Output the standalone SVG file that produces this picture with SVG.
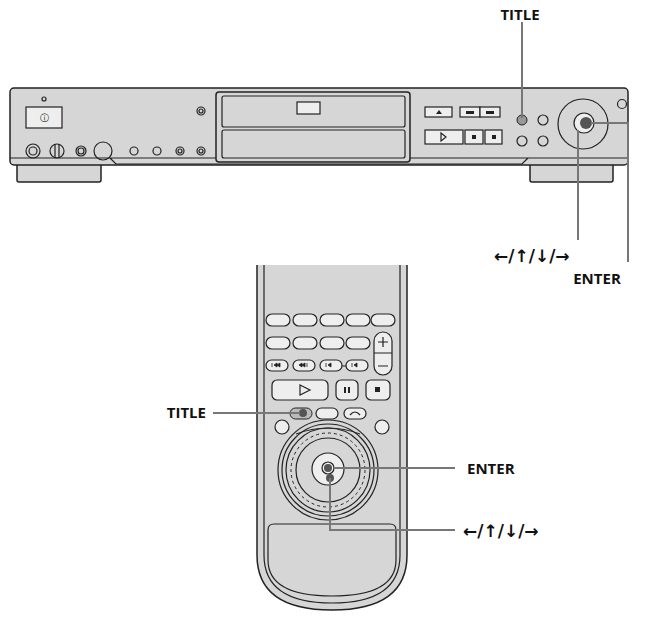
<svg xmlns="http://www.w3.org/2000/svg" width="656" height="625" viewBox="0 0 656 625">
<style>
.b{fill:#d6d6d6;stroke:#222;stroke-width:1.5}
.w{fill:#eee;stroke:#222;stroke-width:1.2}
.n{fill:none;stroke:#222;stroke-width:1.2}
.d{fill:#555}
.c{fill:none;stroke:#777;stroke-width:2}
text{font-family:"Open Sans","DejaVu Sans",sans-serif;font-weight:bold;font-size:15px;fill:#111}
.a{font-family:"DejaVu Sans",sans-serif;font-size:17px}
</style>
<rect width="656" height="625" fill="#fff"/>
<g id="player">
<rect class="b" x="17" y="163" width="84" height="19" rx="2"/>
<rect class="b" x="530" y="163" width="83" height="19" rx="2"/>
<rect class="b" x="10" y="88" width="618" height="77" rx="4"/>
<path class="n" d="M10 158H628M110 158l6 6H522l6-6"/>
<rect class="b" x="216" y="92" width="194" height="70" rx="3"/>
<rect class="n" x="222" y="96" width="183" height="31" rx="2"/>
<rect class="n" x="222" y="130" width="183" height="28" rx="2"/>
<rect class="w" x="297" y="102" width="23" height="12"/>
<rect class="w" x="26" y="107" width="36" height="21"/>
<text x="44" y="121" style="font-size:9px;font-weight:normal" text-anchor="middle">ⓘ</text>
<circle class="n" cx="44" cy="99" r="2"/>
<circle class="n" cx="33" cy="151" r="7"/><circle class="n" cx="33" cy="151" r="4"/>
<circle class="n" cx="57" cy="151" r="7"/><path class="n" d="M55 144V158M59 144V158"/>
<circle class="n" cx="81" cy="151" r="5"/><circle class="n" cx="81" cy="151" r="3"/>
<circle class="n" cx="103" cy="151" r="9"/>
<circle class="n" cx="134" cy="151" r="4"/><circle class="n" cx="157" cy="151" r="4"/>
<circle class="n" cx="180" cy="151" r="4"/><circle class="n" cx="180" cy="151" r="2"/>
<circle class="n" cx="201" cy="151" r="4"/><circle class="n" cx="201" cy="151" r="2"/>
<circle class="n" cx="201" cy="111" r="4"/><circle class="n" cx="201" cy="111" r="2"/>
<rect class="w" x="425" y="107" width="27" height="10"/><path d="M436 114l3-4 3 4z" fill="#222"/>
<rect class="w" x="460" y="107" width="20" height="10"/><rect class="w" x="480" y="107" width="20" height="10"/>
<rect x="466" y="111" width="8" height="3" fill="#222"/><rect x="486" y="111" width="8" height="3" fill="#222"/>
<rect class="w" x="425" y="130" width="38" height="14"/><path class="n" d="M441 133l5 4-5 4z"/>
<rect class="w" x="465" y="130" width="18" height="14"/><rect class="w" x="485" y="130" width="17" height="14"/>
<rect x="472" y="135" width="4" height="4" fill="#222"/><rect x="492" y="135" width="4" height="4" fill="#222"/>
<circle cx="522" cy="120" r="5" fill="#999" stroke="#222"/>
<circle class="n" cx="543" cy="120" r="5"/><circle class="n" cx="522" cy="141" r="5"/><circle class="n" cx="543" cy="141" r="5"/>
<circle class="n" cx="622" cy="104" r="4.5"/>
<circle class="n" cx="583" cy="124" r="25"/>
<circle class="w" cx="584" cy="123" r="10"/>
<circle class="d" cx="586" cy="123" r="6"/>
</g>
<g id="remote">
<path class="b" d="M257 265V555q0 55 75 55q75 0 75-55V265"/>
<path class="n" d="M264 265V555q0 48 68 48q68 0 68-48V265"/>
<path class="n" d="M268 530q0-6 6-6H390q6 0 6 6V560q0 36-64 36q-64 0-64-36z"/>
<g class="w">
<rect x="266" y="314" width="24" height="12" rx="6"/><rect x="293" y="314" width="24" height="12" rx="6"/><rect x="320" y="314" width="24" height="12" rx="6"/><rect x="346" y="314" width="24" height="12" rx="6"/><rect x="371" y="314" width="24" height="12" rx="6"/>
<rect x="266" y="337" width="24" height="12" rx="6"/><rect x="293" y="337" width="24" height="12" rx="6"/><rect x="320" y="337" width="24" height="12" rx="6"/><rect x="346" y="337" width="24" height="12" rx="6"/>
<rect x="266" y="360" width="22" height="11" rx="5.5"/><rect x="293" y="360" width="22" height="11" rx="5.5"/><rect x="320" y="360" width="22" height="11" rx="5.5"/><rect x="346" y="360" width="22" height="11" rx="5.5"/>
<rect x="374" y="332" width="18" height="43" rx="9"/>
<rect x="272" y="380" width="56" height="20" rx="5"/><rect x="336" y="380" width="22" height="20" rx="5"/><rect x="366" y="380" width="24" height="20" rx="5"/>
<rect x="316" y="408" width="22" height="11" rx="5.5"/><rect x="344" y="408" width="22" height="11" rx="5.5"/>
<circle cx="282" cy="427" r="7"/><circle cx="382" cy="427" r="7"/>
</g>
<rect x="290" y="408" width="22" height="11" rx="5.5" fill="#bbb" stroke="#222"/>
<circle class="d" cx="303" cy="413" r="4"/>
<path class="n" d="M374 353h18M378 342h10M383 337v10M378 366h10"/>
<path class="n" d="M300 385l10 5-10 5z"/>
<rect x="344" y="387" width="2" height="6" fill="#222"/><rect x="348" y="387" width="2" height="6" fill="#222"/><rect x="375" y="387" width="5" height="5" fill="#222"/>
<path d="M272 363v4M274 365l3-2v4zM277 365l3-2v4zM299 365l3-2v4zM302 365l3-2v4zM307 363v4M326 363v4M328 365l3-2v4zM352 363v4M354 365l3-2v4z" stroke="#222" stroke-width="0.8" fill="#222"/>
<path class="n" d="M342 366h4M350 415q5-6 10 0"/>
<path class="n" d="M296 434q32-12 64 0"/>
<circle class="n" cx="328" cy="470" r="50"/>
<circle class="n" cx="328" cy="470" r="46"/>
<circle class="n" cx="328" cy="470" r="42"/>
<circle fill="none" stroke="#222" stroke-dasharray="3 3" cx="328" cy="470" r="37"/>
<circle class="n" cx="328" cy="470" r="32"/>
<circle class="w" cx="328" cy="469" r="16"/>
<circle class="n" cx="328" cy="468" r="6"/><circle class="d" cx="328" cy="468" r="4"/>
<circle class="d" cx="330" cy="478" r="4"/>
</g>
<g id="connectors">
<path class="c" d="M522 22V118M578 130V240M591 123H628V262"/>
<path class="c" d="M213 413H300M334 468H455M330 478V530H455"/>
</g>
<g id="labels">
<text x="520" y="20" text-anchor="middle">TITLE</text>
<text class="a" x="494" y="262">←/↑/↓/→</text>
<text x="597" y="284" text-anchor="middle">ENTER</text>
<text x="206" y="418" text-anchor="end">TITLE</text>
<text x="467" y="474">ENTER</text>
<text class="a" x="463" y="537">←/↑/↓/→</text>
</g>
</svg>
